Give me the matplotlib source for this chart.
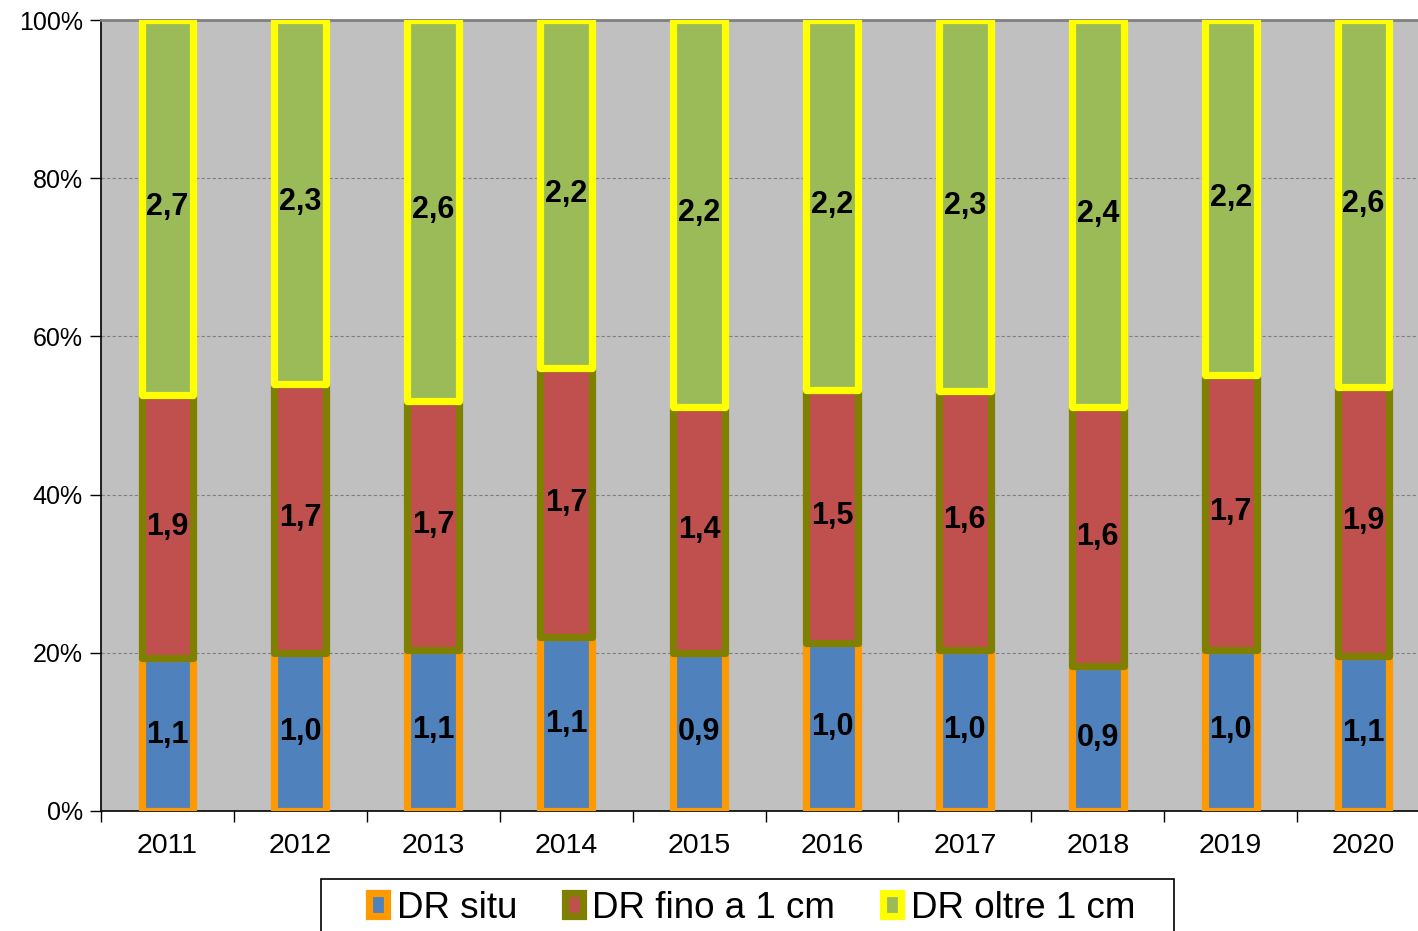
import matplotlib
matplotlib.use("Agg")
import matplotlib.pyplot as plt
from matplotlib.patches import Rectangle
import numpy as np

plt.rcParams['font.family'] = ['Liberation Sans', 'DejaVu Sans']

years = ['2011', '2012', '2013', '2014', '2015', '2016', '2017', '2018', '2019', '2020']
dr_situ = [1.1, 1.0, 1.1, 1.1, 0.9, 1.0, 1.0, 0.9, 1.0, 1.1]
dr_fino = [1.9, 1.7, 1.7, 1.7, 1.4, 1.5, 1.6, 1.6, 1.7, 1.9]
dr_oltre = [2.7, 2.3, 2.6, 2.2, 2.2, 2.2, 2.3, 2.4, 2.2, 2.6]
series_names = ['DR situ', 'DR fino a 1 cm', 'DR oltre 1 cm']
y_ticks = [0, 20, 40, 60, 80, 100]

W, H = 1418, 931
fig = plt.figure(figsize=(W / 100, H / 100), dpi=100)
ax = fig.add_axes([101 / W, 120 / H, 1329 / W, 791 / H])
ax.set_facecolor('#C0C0C0')

a = np.array(dr_situ)
b = np.array(dr_fino)
c = np.array(dr_oltre)
tot = a + b + c
pa, pb, pc = a / tot * 100, b / tot * 100, c / tot * 100
x = np.arange(len(years))

faces = ['#4F81BD', '#C0504D', '#9BBB59']
edges = ['#FF9900', '#808000', '#FFFF00']
width = 0.39
bottoms = [np.zeros(len(x)), pa, pa + pb]
heights = [pa, pb, pc]
raw = [a, b, c]
handles = []
for i in range(3):
    bars = ax.bar(x, heights[i], width, bottom=bottoms[i], color=faces[i],
                  edgecolor=edges[i], linewidth=5.2, zorder=3 + i,
                  joinstyle='round', label=series_names[i])
    handles.append(bars)
    for xi, bt, h, v in zip(x, bottoms[i], heights[i], raw[i]):
        ax.text(xi, bt + h / 2, f"{v:.1f}".replace('.', ','), ha='center', va='center',
                fontsize=22, fontweight='bold', color='black', zorder=10)

ax.set_xlim(-0.5, len(years) - 0.5)
ax.set_ylim(0, 100)
ax.set_yticks(y_ticks)
ax.set_yticklabels([f"{t}%" for t in y_ticks], fontsize=18)
ax.set_xticks(x)
ax.set_xticklabels(years, fontsize=20.5)
ax.tick_params(axis='x', which='major', length=0, pad=16)
ax.set_xticks(np.arange(-0.5, len(years)), minor=True)
ax.tick_params(axis='x', which='minor', length=8, width=1, direction='out')
ax.tick_params(axis='y', length=8, width=1, direction='out', pad=5)

for yv in y_ticks[1:-1]:
    ax.axhline(yv, color='#7F7F7F', lw=0.8, ls=(0, (3, 2)), zorder=1)
ax.spines['left'].set_color('black')
ax.spines['bottom'].set_color('black')
ax.spines['left'].set_linewidth(1.2)
ax.spines['bottom'].set_linewidth(1.2)
ax.spines['top'].set_color('#808080')
ax.spines['top'].set_linewidth(2)
ax.spines['right'].set_visible(False)

leg = fig.legend(handles=handles, labels=series_names, loc='center', ncol=3,
                 bbox_to_anchor=(752 / W, 1 - 908 / H), frameon=False,
                 fontsize=26.5, handlelength=0.5, handleheight=0.55,
                 handletextpad=0.25, columnspacing=1.3)
fig.patches.append(Rectangle((321 / W, -0.01), (1174 - 321) / W, (931 - 879) / H + 0.01,
                             transform=fig.transFigure, fill=False,
                             edgecolor='black', linewidth=1.2))

fig.savefig('out.png', dpi=100)
